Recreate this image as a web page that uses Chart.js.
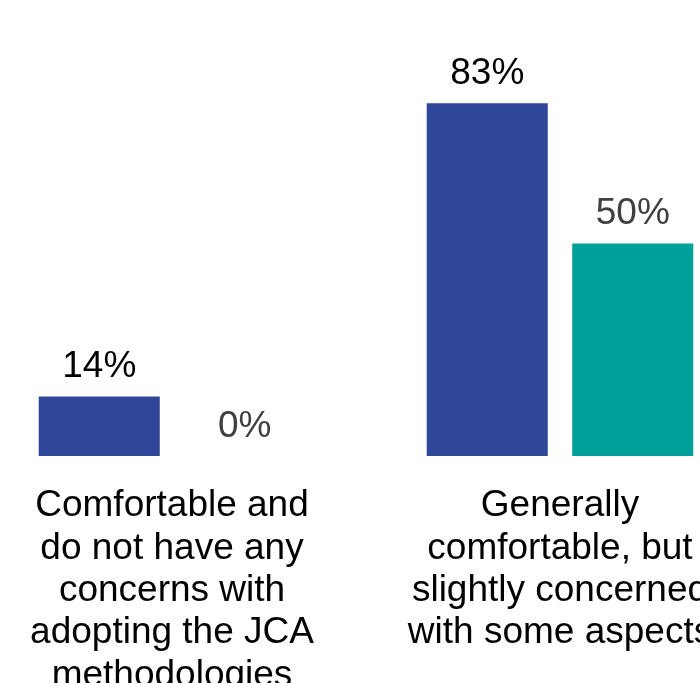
<!DOCTYPE html>
<html>
<head>
<meta charset="utf-8">
<script src="https://cdn.jsdelivr.net/npm/chart.js"></script>
<style>
  html, body { margin: 0; padding: 0; background: #ffffff; overflow: hidden; width: 700px; height: 683px; }
  #wrap { position: absolute; left: -22px; top: 0; width: 776px; height: 760px; }
</style>
</head>
<body>
<div id="wrap"><canvas id="chart"></canvas></div>
<script>
// Response categories (multi-line axis labels)
const categories = [
  ['Comfortable and', 'do not have any', 'concerns with', 'adopting the JCA', 'methodologies'],
  ['Generally', 'comfortable, but', 'slightly concerned', 'with some aspects']
];
// Share of respondents per group, in percent
const groupOne = [14, 83];
const groupTwo = [0, 50];
const seriesNames = ['Group 1', 'Group 2'];

const barColors = ['#2F4699', '#00A09A'];
const valueColors = ['#000000', '#404040'];
const FONT = '"Liberation Sans", Arial, Helvetica, sans-serif';

// Writes each bar's value as a percentage just above the bar
const valueLabels = {
  id: 'valueLabels',
  afterDatasetsDraw(chart) {
    const ctx = chart.ctx;
    chart.data.datasets.forEach((ds, i) => {
      const meta = chart.getDatasetMeta(i);
      meta.data.forEach((bar, j) => {
        ctx.save();
        ctx.font = '37px ' + FONT;
        ctx.fillStyle = valueColors[i];
        ctx.textAlign = 'center';
        ctx.textBaseline = 'alphabetic';
        ctx.fillText(ds.data[j] + '%', bar.x, bar.y - 19.5);
        ctx.restore();
      });
    });
  }
};

new Chart(document.getElementById('chart'), {
  type: 'bar',
  data: {
    labels: categories,
    datasets: [
      { label: seriesNames[0], data: groupOne, backgroundColor: barColors[0] },
      { label: seriesNames[1], data: groupTwo, backgroundColor: barColors[1] }
    ]
  },
  options: {
    responsive: true,
    maintainAspectRatio: false,
    animation: false,
    layout: { padding: { top: 31, left: 0, right: 0, bottom: 0 } },
    datasets: { bar: { categoryPercentage: 0.75, barPercentage: 0.832 } },
    plugins: { legend: { display: false }, tooltip: { enabled: false } },
    scales: {
      x: {
        grid: { display: false },
        border: { display: false },
        ticks: {
          color: '#000000',
          font: { family: FONT, size: 37, lineHeight: 1.145 },
          padding: 21,
          maxRotation: 0,
          autoSkip: false
        },
        afterFit(scale) { scale.height = 304; }
      },
      y: { display: false, min: 0, max: 100 }
    }
  },
  plugins: [valueLabels]
});
</script>
</body>
</html>
